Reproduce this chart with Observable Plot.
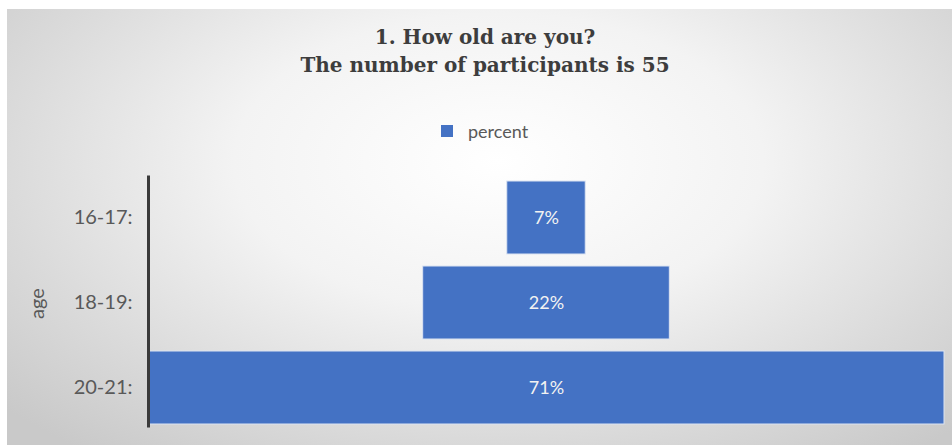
<!DOCTYPE html>
<html>
<head>
<meta charset="utf-8">
<script src="https://cdn.jsdelivr.net/npm/d3@7"></script>
<script src="https://cdn.jsdelivr.net/npm/@observablehq/plot@0.6"></script>
<style>
  html, body { margin: 0; padding: 0; background: #ffffff; }
  #wrap { position: relative; width: 952px; height: 445px; overflow: hidden; background: #ffffff; }
  #panel { position: absolute; left: 7px; top: 9px; width: 945px; height: 436px;
    background: radial-gradient(ellipse 70% 85% at 52% 35%, #ffffff 0%, #f3f3f3 40%, #dadada 75%, #c9c9c9 100%); }
  .title { position: absolute; left: 0; width: 970px; text-align: center;
    font-family: "DejaVu Serif", serif; font-weight: bold; font-size: 20px; color: #3d3d3d; }
  #legend { position: absolute; left: 441px; top: 120px; font-family: Lato, "Open Sans", sans-serif;
    font-size: 18px; color: #595959; display: flex; align-items: center; }
  #legend .sw { width: 12px; height: 12px; background: #4472C4; margin-right: 15px; }
  #chart { position: absolute; left: 0; top: 0; }
</style>
</head>
<body>
<div id="wrap">
  <div id="panel"></div>
  <div class="title" style="top:25px">1. How old are you?</div>
  <div class="title" style="top:53px">The number of participants is 55</div>
  <div id="legend"><div class="sw"></div><span id="legendText"></span></div>
  <div id="chart"></div>
</div>
<script>
const categories = ["16-17", "18-19", "20-21"];
const percents = [7, 22, 71];
const seriesName = "percent";
const axisTitle = "age";

document.getElementById("legendText").textContent = seriesName;

const data = categories.map((c, i) => ({age: c, value: percents[i]}));
const half = d3.max(percents) / 2;

const chart = Plot.plot({
  width: 952,
  height: 445,
  marginTop: 175.5,
  marginBottom: 14.5,
  marginLeft: 148,
  marginRight: 8,
  style: {background: "transparent", fontFamily: "Lato, 'Open Sans', sans-serif"},
  x: {domain: [-half, half], axis: null},
  y: {domain: categories, paddingInner: 0.14, paddingOuter: 0.07, label: null},
  marks: [
    Plot.barX(data, {
      y: "age",
      x1: d => -d.value / 2,
      x2: d => d.value / 2,
      fill: "#4472C4",
      stroke: "#dce4f2",
      strokeWidth: 1
    }),
    Plot.text(data, {
      y: "age",
      x: () => 0,
      text: d => d.value + "%",
      fill: "#f2f2f2",
      fontSize: 18
    }),
    Plot.axisY({
      tickSize: 0,
      tickPadding: 16,
      tickFormat: d => d + ":",
      fontSize: 20,
      color: "#595959",
      label: axisTitle,
      labelAnchor: "center",
      labelArrow: "none",
      labelOffset: 119
    }),
    Plot.ruleX([-half], {stroke: "#3a3a3a", strokeWidth: 3, insetBottom: 3})
  ]
});
document.getElementById("chart").appendChild(chart);
</script>
</body>
</html>
